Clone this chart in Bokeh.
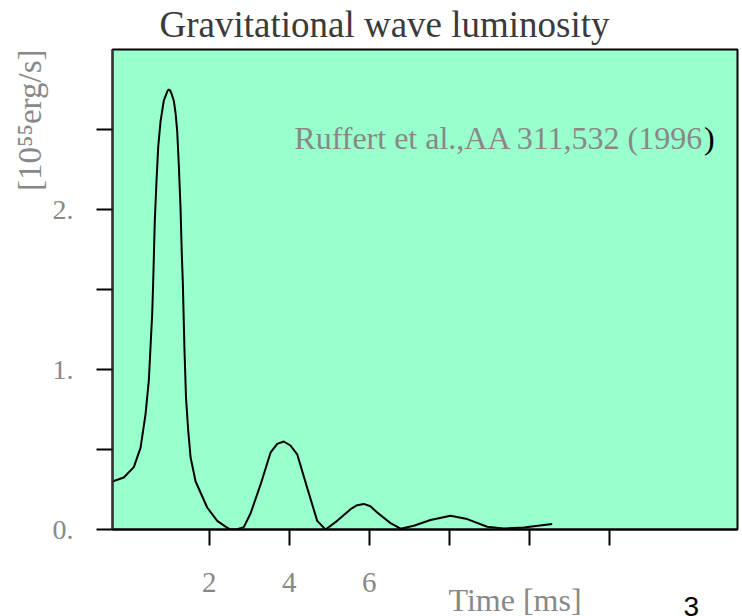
from bokeh.plotting import figure
from bokeh.models import Range1d, FixedTicker, Label, Title
from bokeh.embed import file_html
from bokeh.resources import INLINE

# ---- data ----
time_ms = [-0.42, -0.135, 0.115, 0.283, 0.408, 0.49, 0.533, 0.575, 0.60, 0.64,
           0.683, 0.725, 0.783, 0.865, 0.925, 0.955, 0.99, 1.02, 1.05, 1.115,
           1.16, 1.20, 1.24, 1.283, 1.315, 1.34, 1.38, 1.42, 1.475, 1.535,
           1.66, 1.95, 2.2, 2.4, 2.53, 2.7, 2.865, 3.033, 3.283, 3.533,
           3.7, 3.865, 4.03, 4.2, 4.45, 4.7, 4.908, 5.2, 5.533, 5.7,
           5.865, 6.03, 6.2, 6.533, 6.783, 7.115, 7.533, 8.033, 8.45, 8.95,
           9.365, 9.865, 10.575]
luminosity = [0.30, 0.325, 0.39, 0.51, 0.72, 0.93, 1.14, 1.35, 1.55, 1.93,
              2.18, 2.39, 2.55, 2.68, 2.72, 2.74, 2.75, 2.745, 2.73, 2.68,
              2.60, 2.49, 2.28, 2.01, 1.72, 1.55, 1.14, 0.825, 0.62, 0.45,
              0.30, 0.1375, 0.054, 0.02, 0.0, 0.002, 0.015, 0.10, 0.28, 0.48,
              0.535, 0.55, 0.525, 0.47, 0.26, 0.054, 0.0, 0.054, 0.127, 0.152,
              0.16, 0.145, 0.106, 0.04, 0.005, 0.023, 0.059, 0.086, 0.065, 0.017,
              0.006, 0.0125, 0.034]

x_ticks = [2, 4, 6, 8, 10, 12]
x_tick_labels = ["2", "4", "6", "", "", ""]
y_ticks = [0, 0.5, 1, 1.5, 2, 2.5]
y_tick_labels = ["0.", "", "1.", "", "2.", ""]

title_text = "Gravitational wave luminosity"
y_title = "[10\u2075\u2075erg/s]"
x_title = "Time [ms]"
citation = "Ruffert et al.,AA 311,532 (1996"
citation_end = ")"
page_number = "3"

SERIF = "Liberation Serif"
GRAY = "#888888"

p = figure(width=742, height=616,
           x_range=Range1d(-0.4175, 15.2075), y_range=Range1d(0, 3),
           output_backend="svg", toolbar_location=None,
           min_border_left=112, min_border_right=5,
           min_border_top=49, min_border_bottom=87,
           background_fill_color="#99ffcc", border_fill_color="white",
           outline_line_color="black", outline_line_width=2)
p.grid.visible = False

p.line(time_ms, luminosity, line_color="black", line_width=2)

xa = p.xaxis[0]
xa.ticker = FixedTicker(ticks=x_ticks)
xa.major_label_overrides = dict(zip(x_ticks, x_tick_labels))
xa.major_tick_out = 16
xa.major_tick_in = 0
xa.minor_tick_out = 0
xa.minor_tick_in = 0
xa.major_tick_line_width = 2
xa.axis_line_width = 2
xa.axis_line_color = "black"
xa.major_label_text_font = SERIF
xa.major_label_text_font_size = "29px"
xa.major_label_text_color = GRAY
xa.major_label_standoff = 27

ya = p.yaxis[0]
ya.ticker = FixedTicker(ticks=y_ticks)
ya.major_label_overrides = dict(zip(y_ticks, y_tick_labels))
ya.major_tick_out = 16
ya.major_tick_in = 0
ya.minor_tick_out = 0
ya.minor_tick_in = 0
ya.major_tick_line_width = 2
ya.axis_line_width = 2
ya.axis_line_color = "#333333"
ya.major_label_text_font = SERIF
ya.major_label_text_font_size = "28px"
ya.major_label_text_color = GRAY
ya.major_label_standoff = 23

# titles placed in the side panels
p.add_layout(Title(text=title_text, align="left", offset=47, standoff=6,
                   vertical_align="top", text_font=SERIF,
                   text_font_size="37px", text_font_style="normal",
                   text_color="#3a3a3a"), "above")
p.add_layout(Title(text=y_title, align="right", offset=0, standoff=4,
                   vertical_align="bottom", text_font=SERIF,
                   text_font_size="33px", text_font_style="normal",
                   text_color=GRAY), "left")
p.add_layout(Title(text=x_title, align="left", offset=336, standoff=-26,
                   vertical_align="top", text_font=SERIF,
                   text_font_size="32px", text_font_style="normal",
                   text_color=GRAY), "below")
p.add_layout(Title(text=page_number, align="left", offset=571, standoff=-20,
                   vertical_align="top", text_font="Liberation Sans",
                   text_font_size="28px", text_font_style="normal",
                   text_color="black"), "below")

# citation inside the plot area
p.add_layout(Label(x=14.37, y=2.45, text=citation, text_align="right",
                   text_baseline="alphabetic", text_font=SERIF,
                   text_font_size="32px", text_color=GRAY))
p.add_layout(Label(x=14.37, y=2.45, text=citation_end, text_align="left",
                   text_baseline="alphabetic", text_font=SERIF,
                   text_font_size="32px", text_color="black"))

open("out.html", "w").write(file_html(p, INLINE))
